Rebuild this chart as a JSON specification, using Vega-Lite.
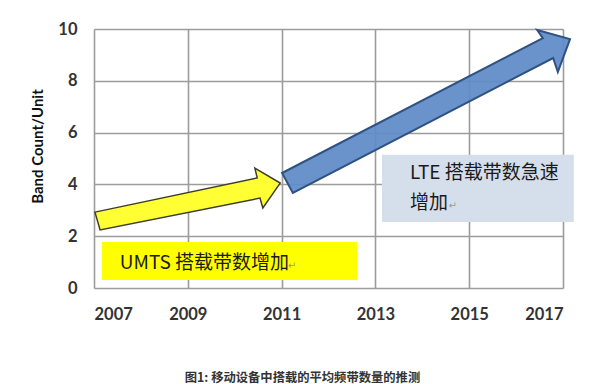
{
  "$schema": "https://vega.github.io/schema/vega-lite/v6.json",
  "width": 469,
  "height": 259,
  "autosize": {"type": "none"},
  "padding": {"left": 94, "top": 29, "right": 37, "bottom": 96},
  "background": "white",
  "title": {
    "text": "图1: 移动设备中搭载的平均频带数量的推测",
    "orient": "bottom",
    "anchor": "middle",
    "frame": "group",
    "offset": 49,
    "dx": -26,
    "font": "Noto Sans CJK SC",
    "fontSize": 12.3,
    "fontWeight": "bold",
    "color": "#333333"
  },
  "config": {
    "view": {"stroke": null},
    "axis": {
      "domain": false,
      "ticks": false,
      "grid": true,
      "gridColor": "#9c9c9c",
      "gridWidth": 1.6,
      "gridOpacity": 1,
      "labelFont": "Lato",
      "labelFontSize": 16.5,
      "labelFontWeight": "bold",
      "labelColor": "#333333"
    }
  },
  "datasets": {
    "umtsArrow": [
      {"i": 1, "x": 2007.02, "y": 2.93},
      {"i": 2, "x": 2010.48, "y": 4.25},
      {"i": 3, "x": 2010.43, "y": 4.63},
      {"i": 4, "x": 2010.97, "y": 4.05},
      {"i": 5, "x": 2010.60, "y": 3.09},
      {"i": 6, "x": 2010.54, "y": 3.47},
      {"i": 7, "x": 2007.13, "y": 2.24}
    ],
    "lteArrow": [
      {"i": 1, "x": 2011.01, "y": 4.44},
      {"i": 2, "x": 2016.57, "y": 9.65},
      {"i": 3, "x": 2016.45, "y": 9.96},
      {"i": 4, "x": 2017.15, "y": 9.61},
      {"i": 5, "x": 2016.89, "y": 8.34},
      {"i": 6, "x": 2016.79, "y": 8.88},
      {"i": 7, "x": 2011.24, "y": 3.67}
    ],
    "umtsBox": [{"x": 2007.17, "x2": 2012.61, "y": 1.78, "y2": 0.31}],
    "lteBox": [{"x": 2013.14, "x2": 2017.23, "y": 5.14, "y2": 2.55}],
    "labels": [
      {"x": 2007.55, "y": 0.97, "t": "UMTS 搭载带数增加"},
      {"x": 2013.74, "y": 4.44, "t": "LTE 搭载带数急速"},
      {"x": 2013.74, "y": 3.28, "t": "增加"}
    ],
    "marks": [
      {"x": 2011.13, "y": 0.85, "t": "↵"},
      {"x": 2014.56, "y": 3.16, "t": "↵"}
    ]
  },
  "encoding": {
    "x": {
      "field": "x",
      "type": "quantitative",
      "scale": {"domain": [2007, 2017], "nice": false, "zero": false},
      "axis": {"values": [2007, 2009, 2011, 2013, 2015, 2017], "format": "d", "title": null, "labelPadding": 18}
    },
    "y": {
      "field": "y",
      "type": "quantitative",
      "scale": {"domain": [0, 10], "nice": false},
      "axis": {
        "values": [0, 2, 4, 6, 8, 10],
        "title": "Band Count/Unit",
        "labelPadding": 17,
        "titleFont": "Lato",
        "titleFontSize": 15,
        "titleFontWeight": "bold",
        "titleColor": "#111111",
        "titleAngle": 270,
        "titleX": -57,
        "titleY": 117,
        "titleAlign": "center",
        "titleBaseline": "middle"
      }
    }
  },
  "layer": [
    {
      "data": {"name": "umtsBox"},
      "mark": {"type": "rect", "fill": "#ffff00"},
      "encoding": {"x2": {"field": "x2"}, "y2": {"field": "y2"}}
    },
    {
      "data": {"name": "lteBox"},
      "mark": {"type": "rect", "fill": "#d5deeb"},
      "encoding": {"x2": {"field": "x2"}, "y2": {"field": "y2"}}
    },
    {
      "data": {"name": "umtsArrow"},
      "mark": {"type": "line", "interpolate": "linear-closed", "fill": "#ffff33", "stroke": "#3d3d2d", "strokeWidth": 1.5, "strokeJoin": "miter"},
      "encoding": {"order": {"field": "i", "type": "quantitative"}}
    },
    {
      "data": {"name": "lteArrow"},
      "mark": {"type": "line", "interpolate": "linear-closed", "fill": "#5f8bc8", "fillOpacity": 0.93, "stroke": "#2f5282", "strokeWidth": 2, "strokeJoin": "miter"},
      "encoding": {"order": {"field": "i", "type": "quantitative"}}
    },
    {
      "data": {"name": "labels"},
      "mark": {"type": "text", "align": "left", "baseline": "middle", "font": "Noto Sans CJK SC", "fontSize": 19, "color": "#1a1a1a"},
      "encoding": {"text": {"field": "t"}}
    },
    {
      "data": {"name": "marks"},
      "mark": {"type": "text", "align": "left", "baseline": "middle", "font": "DejaVu Sans", "fontSize": 10, "color": "#9a9a9a"},
      "encoding": {"text": {"field": "t"}}
    }
  ]
}
